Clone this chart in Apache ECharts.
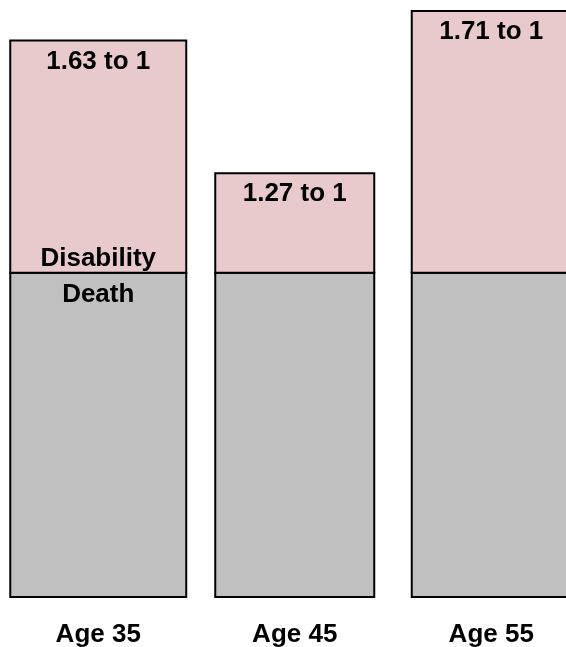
<!DOCTYPE html>
<html>
<head>
<meta charset="utf-8">
<script src="https://cdn.jsdelivr.net/npm/echarts@6/dist/echarts.min.js"></script>
<style>
  html, body { margin: 0; padding: 0; background: #fff; }
  #chart { width: 566px; height: 647px; }
</style>
</head>
<body>
<div id="chart"></div>
<script>
// categories and values
const ages = ['Age 35', 'Age 45', 'Age 55']
const deathBase = [1, 1, 1] // death risk, baseline
const disabilityExtra = [0.63, 0.27, 0.71] // disability ratio minus 1
const ratioLabels = ['1.63 to 1', '1.27 to 1', '1.71 to 1']

// look of the bars (the first bar is drawn wider in the original)
const barWidths = [176, 159, 159]
const yMin = 0.12
const yMax = 1.74

const myChart = echarts.init(document.getElementById('chart'))

const fontName = 'Liberation Sans, Arial, sans-serif'
const labelFont = 'bold 26px ' + fontName

function renderBar(params, api) {
  const i = api.value(0)
  const death = api.value(1)
  const extra = api.value(2)
  const bottom = api.coord([i, yMin])
  const mid = api.coord([i, death])
  const top = api.coord([i, death + extra])
  const w = barWidths[i]
  const x = bottom[0] - w / 2
  const border = { stroke: '#000', lineWidth: 2 }
  const children = [
    {
      type: 'rect',
      shape: { x: x, y: mid[1], width: w, height: bottom[1] - mid[1] },
      style: Object.assign({ fill: '#c0c0c0' }, border)
    },
    {
      type: 'rect',
      shape: { x: x, y: top[1], width: w, height: mid[1] - top[1] },
      style: Object.assign({ fill: '#e8c9cc' }, border)
    },
    {
      type: 'text',
      style: {
        text: ratioLabels[i], x: bottom[0], y: top[1] + 8,
        align: 'center', verticalAlign: 'top', font: labelFont, fill: '#000'
      }
    }
  ]
  // series names only on the first bar
  if (i === 0) {
    children.push({
      type: 'text',
      style: {
        text: 'Disability', x: bottom[0], y: mid[1] - 14,
        align: 'center', verticalAlign: 'middle', font: labelFont, fill: '#000'
      }
    })
    children.push({
      type: 'text',
      style: {
        text: 'Death', x: bottom[0], y: mid[1] + 22,
        align: 'center', verticalAlign: 'middle', font: labelFont, fill: '#000'
      }
    })
  }
  return { type: 'group', children: children }
}

let option = {
  animation: false,
  grid: {
    left: 0,
    width: 589.5,
    top: 0,
    bottom: 50,
    outerBoundsMode: 'none'
  },
  xAxis: {
    type: 'category',
    data: ages,
    axisLine: { show: false },
    axisTick: { show: false },
    axisLabel: {
      margin: 25,
      color: '#000',
      fontSize: 26,
      fontWeight: 'bold',
      fontFamily: fontName
    }
  },
  yAxis: {
    type: 'value',
    min: yMin,
    max: yMax,
    show: false,
    splitLine: { show: false }
  },
  series: [
    {
      type: 'custom',
      name: 'Death / Disability',
      renderItem: renderBar,
      encode: { x: 0, y: [1, 2] },
      data: ages.map((a, i) => [i, deathBase[i], disabilityExtra[i]])
    }
  ]
}

option && myChart.setOption(option)
</script>
</body>
</html>
